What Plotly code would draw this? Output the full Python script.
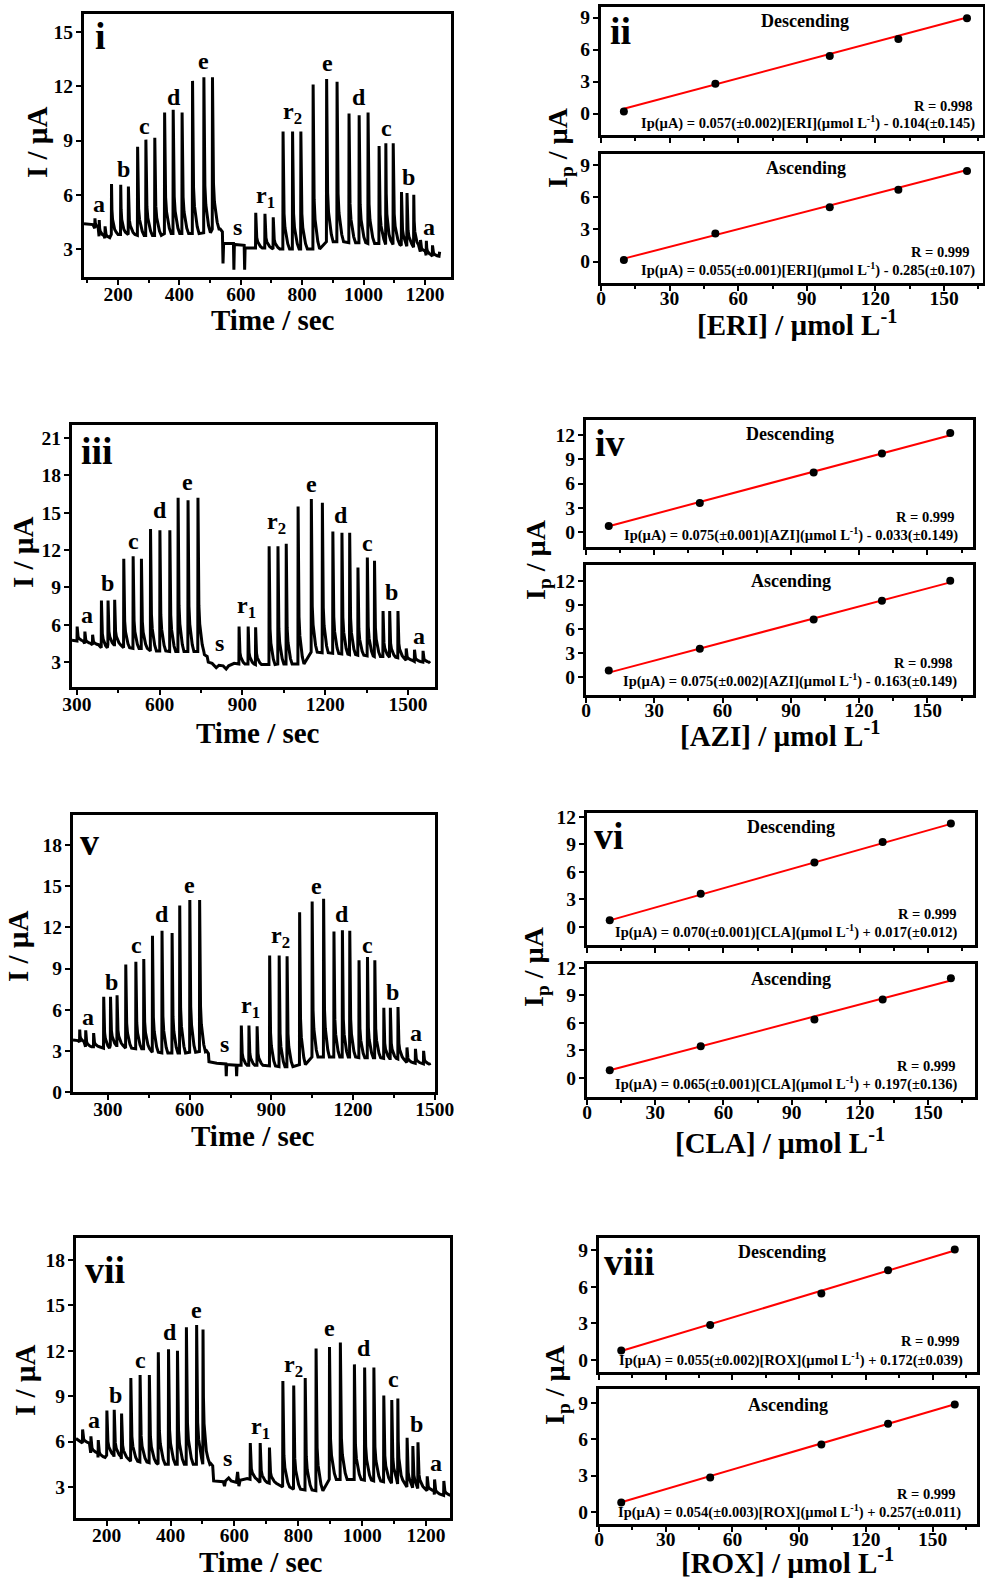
import plotly.graph_objects as go

W, H = 985, 1578
FONT = "Liberation Serif"

# ===================== DATA =====================
# ---- Panel i : ERI amperometric trace (time / s, current / uA) ----
ERI_spk_t = [124, 138, 157, 178, 208, 233, 263, 290, 319, 351, 379, 408, 442, 479, 507,
             648, 678, 705, 737, 768, 795, 835, 879, 913, 952, 985, 1014, 1050, 1072, 1096,
             1123, 1141, 1163, 1185, 1204, 1224]
ERI_spk_p = [4.7, 4.6, 4.25, 6.6, 6.55, 6.45, 8.65, 9.05, 9.15, 10.55, 10.7, 10.55, 12.3, 12.5, 12.5,
             5.0, 4.95, 4.75, 9.5, 9.5, 9.5, 12.1, 12.4, 12.25, 10.5, 10.4, 10.55, 8.7, 8.85, 8.85,
             6.15, 6.1, 6.0, 3.5, 3.45, 3.2]
ERI_spk_b = [4.15, 3.7, 3.6, 3.8, 3.8, 3.8, 3.75, 3.75, 3.75, 3.85, 3.85, 3.85, 3.85, 3.9, 4.1,
             3.05, 3.05, 3.0, 3.0, 3.0, 3.0, 3.0, 3.4, 3.4, 3.35, 3.35, 3.3, 3.3, 3.25, 3.25,
             3.2, 3.15, 3.1, 2.85, 2.65, 2.6]
ERI_base_t = [89, 118, 533, 540, 542, 544, 576, 577.5, 579, 611, 612.5, 614, 625, 642, 1248]
ERI_base_y = [4.4, 4.35, 4.1, 3.95, 2.2, 3.3, 3.3, 1.85, 3.25, 3.2, 1.85, 3.05, 3.05, 3.05, 2.85]
ERI_lbl = ["a", "b", "c", "d", "e", "s", "r<sub>1</sub>", "r<sub>2</sub>", "e", "d", "c", "b", "a"]
ERI_lbl_t = [137, 218, 285, 381, 477, 589, 680, 767, 884, 984, 1074, 1148, 1213]
ERI_lbl_y = [5.5, 7.4, 9.8, 11.4, 13.4, 4.2, 5.9, 10.5, 13.3, 11.4, 9.7, 7.0, 4.2]

# ---- Panel iii : AZI amperometric trace ----
AZI_spk_t = [300, 328, 356, 388, 412, 436, 469, 503, 533, 566, 600, 636, 666, 702, 738,
             887, 920, 947, 996, 1028, 1058, 1101, 1149, 1189, 1227, 1260, 1288, 1318, 1352, 1378,
             1409, 1433, 1463, 1493, 1523, 1554]
AZI_spk_p = [5.85, 5.45, 5.2, 7.95, 7.95, 8.0, 11.3, 11.5, 11.3, 13.7, 13.6, 13.6, 16.2, 16.0, 16.2,
             5.85, 5.85, 5.8, 12.3, 12.3, 12.5, 15.5, 16.1, 15.8, 13.5, 13.4, 13.4, 10.6, 11.4, 11.15,
             7.1, 7.1, 7.1, 4.1, 4.0, 3.9]
AZI_spk_b = [4.7, 4.5, 4.4, 4.15, 4.4, 4.4, 4.15, 4.1, 4.1, 3.9, 3.9, 3.85, 3.85, 3.85, 3.85,
             2.85, 2.85, 2.8, 2.8, 2.85, 2.85, 2.85, 3.8, 3.75, 3.7, 3.65, 3.6, 3.55, 3.5, 3.45,
             3.45, 3.4, 3.35, 3.15, 3.05, 3.0]
AZI_base_t = [282, 298, 762, 772, 776, 790, 805, 815, 830, 841, 850, 870, 880, 1580]
AZI_base_y = [4.75, 4.7, 3.6, 3.45, 3.0, 2.9, 2.55, 2.75, 2.7, 2.45, 2.7, 2.9, 2.85, 2.9]
AZI_lbl = ["a", "b", "c", "d", "e", "s", "r<sub>1</sub>", "r<sub>2</sub>", "e", "d", "c", "b", "a"]
AZI_lbl_t = [336, 412, 505, 602, 702, 817, 915, 1024, 1149, 1258, 1354, 1439, 1539]
AZI_lbl_y = [6.8, 9.35, 12.7, 15.25, 17.5, 4.5, 7.4, 14.2, 17.3, 14.85, 12.6, 8.6, 5.1]

# ---- Panel v : CLA amperometric trace ----
CLA_spk_t = [196, 218, 247, 284, 309, 333, 365, 402, 431, 463, 498, 535, 563, 600, 636,
             789, 817, 847, 893, 928, 957, 1003, 1049, 1091, 1129, 1160, 1187, 1221, 1252, 1279,
             1312, 1336, 1364, 1397, 1428, 1458]
CLA_spk_p = [4.55, 4.5, 4.3, 6.95, 6.95, 7.05, 9.3, 9.5, 9.7, 11.4, 11.75, 11.6, 13.6, 14.0, 14.0,
             4.85, 4.85, 4.8, 9.95, 9.95, 9.9, 13.1, 13.9, 14.1, 11.7, 11.8, 11.75, 9.6, 9.85, 9.6,
             6.15, 6.15, 6.2, 3.25, 3.15, 3.0]
CLA_spk_b = [3.65, 3.3, 3.3, 3.2, 3.4, 3.4, 3.2, 3.15, 3.15, 2.9, 2.85, 2.85, 2.85, 2.9, 2.95,
             1.95, 1.95, 1.95, 1.9, 1.85, 1.85, 2.0, 2.55, 2.55, 2.55, 2.55, 2.55, 2.5, 2.5, 2.5,
             2.45, 2.45, 2.4, 2.15, 2.1, 2.05]
CLA_base_t = [172, 190, 662, 669, 671, 700, 733, 734.5, 736, 771, 772.5, 774, 782, 1482]
CLA_base_y = [3.8, 3.75, 3.0, 2.8, 2.2, 2.1, 2.05, 1.15, 2.0, 1.95, 1.15, 1.95, 1.95, 1.95]
CLA_lbl = ["a", "b", "c", "d", "e", "s", "r<sub>1</sub>", "r<sub>2</sub>", "e", "d", "c", "b", "a"]
CLA_lbl_t = [227, 312, 404, 498, 600, 728, 822, 932, 1065, 1160, 1254, 1346, 1432]
CLA_lbl_y = [5.5, 8.0, 10.7, 13.0, 15.1, 3.5, 6.2, 11.3, 15.0, 13.0, 10.7, 7.3, 4.3]

# ---- Panel vii : ROX amperometric trace ----
ROX_spk_t = [124, 150, 173, 200, 223, 246, 275, 304, 333, 361, 393, 421, 449, 481, 501,
             649, 680, 709, 751, 785, 821, 855, 897, 931, 975, 1007, 1036, 1067, 1092, 1111,
             1140, 1158, 1174, 1203, 1226, 1255]
ROX_spk_p = [6.8, 6.35, 6.1, 8.05, 8.1, 7.85, 10.2, 10.4, 10.4, 11.9, 12.1, 12.0, 13.55, 13.7, 13.4,
             5.9, 5.9, 5.6, 10.0, 9.7, 10.2, 12.15, 12.25, 12.55, 11.1, 10.9, 10.9, 9.05, 8.75, 8.85,
             6.25, 5.7, 5.95, 3.7, 3.5, 3.4]
ROX_spk_b = [5.9, 5.25, 4.95, 5.1, 5.0, 4.85, 4.7, 4.65, 4.6, 4.5, 4.5, 4.5, 4.5, 4.5, 4.5,
             3.5, 3.3, 3.25, 3.0, 2.85, 2.8, 2.75, 3.5, 3.5, 3.5, 3.45, 3.4, 3.35, 3.25, 3.2,
             3.0, 2.95, 2.9, 2.75, 2.5, 2.45]
ROX_base_t = [104, 118, 526, 532, 535, 565, 569, 572, 582, 590, 606, 610, 614, 618, 640, 1280]
ROX_base_y = [6.2, 5.95, 4.55, 4.4, 3.4, 3.35, 3.05, 3.4, 3.6, 3.4, 3.3, 4.0, 3.05, 3.45, 3.55, 2.4]
ROX_lbl = ["a", "b", "c", "d", "e", "s", "r<sub>1</sub>", "r<sub>2</sub>", "e", "d", "c", "b", "a"]
ROX_lbl_t = [160, 228, 307, 397, 482, 578, 683, 784, 897, 1007, 1099, 1169, 1231]
ROX_lbl_y = [7.45, 9.1, 11.4, 13.24, 14.7, 4.9, 6.9, 11.0, 13.5, 12.2, 10.16, 7.16, 4.6]

# ---- Calibration panels (concentration / umol L-1, Ip / uA) ----
conc = [10, 50, 100, 130, 160]
ERI_desc = [0.2, 2.8, 5.4, 7.0, 8.95]
ERI_asc = [0.15, 2.6, 5.05, 6.67, 8.42]
AZI_desc = [0.75, 3.6, 7.35, 9.7, 12.25]
AZI_asc = [0.85, 3.55, 7.22, 9.54, 12.05]
CLA_desc = [0.73, 3.62, 7.02, 9.25, 11.27]
CLA_asc = [0.84, 3.45, 6.36, 8.55, 10.85]
ROX_desc = [0.76, 2.86, 5.45, 7.36, 9.05]
ROX_asc = [0.77, 2.84, 5.56, 7.29, 8.86]
# fit: slope, slope error, intercept, intercept error, R
ERI_fit_desc = [0.057, 0.002, -0.104, 0.145, 0.998]
ERI_fit_asc = [0.055, 0.001, -0.285, 0.107, 0.999]
AZI_fit_desc = [0.075, 0.001, -0.033, 0.149, 0.999]
AZI_fit_asc = [0.075, 0.002, -0.163, 0.149, 0.998]
CLA_fit_desc = [0.070, 0.001, 0.017, 0.012, 0.999]
CLA_fit_asc = [0.065, 0.001, 0.197, 0.136, 0.999]
ROX_fit_desc = [0.055, 0.002, 0.172, 0.039, 0.999]
ROX_fit_asc = [0.054, 0.003, 0.257, 0.011, 0.999]

# tick labels
TIME_TICKS_A = [200, 400, 600, 800, 1000, 1200]
TIME_MINOR_A = [100, 300, 500, 700, 900, 1100, 1300]
TIME_TICKS_B = [300, 600, 900, 1200, 1500]
TIME_MINOR_B = [150, 450, 750, 1050, 1350]
CONC_TICKS = [0, 30, 60, 90, 120, 150]
CONC_MINOR = [15, 45, 75, 105, 135, 165]

# ===================== RENDERING =====================
# pulse shape of one injection (relative time, fraction of peak height)
DECAY_DT = [0.7, 2.0, 4.0, 7.0, 11.0, 16.0, 22.0]
DECAY_FR = [1.0, 0.5, 0.3, 0.18, 0.1, 0.045, 0.0]


def build_trace(spk_t, spk_p, spk_b, base_t, base_y):
    pts, windows = [], []
    n = len(spk_t)
    for k in range(n):
        t, p, b = spk_t[k], spk_p[k], spk_b[k]
        t_next = spk_t[k + 1] if k + 1 < n else 1e9
        pts.append((t, b))
        last = t
        for dt, f in zip(DECAY_DT, DECAY_FR):
            if t + dt < t_next - 0.3:
                pts.append((t + dt, b + f * (p - b)))
                last = t + dt
        windows.append((t, last))
    for bt, by in zip(base_t, base_y):
        if not any(w0 <= bt <= w1 for w0, w1 in windows):
            pts.append((bt, by))
    pts.sort(key=lambda q: q[0])
    return [q[0] for q in pts], [q[1] for q in pts]


def fnt(size):
    return dict(family=FONT, size=size, color="black", weight="bold")


TICKFONT = fnt(19.5)


def make_axis(frame_px, rng, tickvals, minorvals, is_x, showlabels=True, standoff=None):
    l, r, t, b = frame_px
    dom = [l / W, r / W] if is_x else [1 - b / H, 1 - t / H]
    if standoff is None:
        standoff = -7 if is_x else -1
    ax = dict(domain=dom, range=rng, tickmode="array", tickvals=tickvals,
              ticktext=[str(v) for v in tickvals], showticklabels=showlabels,
              ticks="outside", ticklen=5, tickwidth=2, tickcolor="black",
              showline=True, linewidth=3, linecolor="black", mirror=True,
              showgrid=False, zeroline=False, tickfont=TICKFONT, fixedrange=True,
              automargin=False, ticklabelstandoff=standoff)
    if minorvals:
        ax["minor"] = dict(tickmode="array", tickvals=minorvals, ticks="outside",
                           ticklen=3, tickwidth=2, tickcolor="black", showgrid=False)
    return ax


fig = go.Figure()
layout = {}
ann = []


def add_text(x, y, text, size, xref="paper", yref="paper", xanchor="center",
             yanchor="middle", angle=0):
    ann.append(dict(x=x, y=y, xref=xref, yref=yref, text=text, showarrow=False,
                    font=fnt(size), xanchor=xanchor, yanchor=yanchor, textangle=angle))


def ax_names(n):
    return ("x" if n == 1 else f"x{n}"), ("y" if n == 1 else f"y{n}")


# ---- amperometric panels ----
amp_panels = [
    (1, (84, 451, 14, 277), [89, 1285], [1.45, 16.0], TIME_TICKS_A, TIME_MINOR_A, [3, 6, 9, 12, 15],
     (ERI_spk_t, ERI_spk_p, ERI_spk_b, ERI_base_t, ERI_base_y), (ERI_lbl, ERI_lbl_t, ERI_lbl_y),
     "i", (100, 36), (37, 142), (273, 320)),
    (4, (72, 435, 425, 687), [282, 1598], [1.0, 22.05], TIME_TICKS_B, TIME_MINOR_B, [3, 6, 9, 12, 15, 18, 21],
     (AZI_spk_t, AZI_spk_p, AZI_spk_b, AZI_base_t, AZI_base_y), (AZI_lbl, AZI_lbl_t, AZI_lbl_y),
     "iii", (97, 451), (23, 552), (258, 733)),
    (7, (73, 435, 815, 1092), [172, 1500.5], [0, 20.2], TIME_TICKS_B, TIME_MINOR_B, [0, 3, 6, 9, 12, 15, 18],
     (CLA_spk_t, CLA_spk_p, CLA_spk_b, CLA_base_t, CLA_base_y), (CLA_lbl, CLA_lbl_t, CLA_lbl_y),
     "v", (89, 842), (18, 946), (253, 1136)),
    (10, (76, 450, 1238, 1518), [104, 1275], [0.95, 19.45], TIME_TICKS_A, TIME_MINOR_A, [3, 6, 9, 12, 15, 18],
     (ROX_spk_t, ROX_spk_p, ROX_spk_b, ROX_base_t, ROX_base_y), (ROX_lbl, ROX_lbl_t, ROX_lbl_y),
     "vii", (105, 1270), (25, 1380), (261, 1562)),
]

for (n, frame, xr, yr, xt, xm, yt, data, lbls, plabel, ppos, ylpos, xlpos) in amp_panels:
    xn, yn = ax_names(n)
    xa = make_axis(frame, xr, xt, xm, True)
    ya = make_axis(frame, yr, yt, None, False)
    xa["anchor"] = yn
    ya["anchor"] = xn
    layout["xaxis" if n == 1 else f"xaxis{n}"] = xa
    layout["yaxis" if n == 1 else f"yaxis{n}"] = ya
    tx, ty = build_trace(*data)
    fig.add_trace(go.Scatter(x=tx, y=ty, mode="lines", line=dict(color="black", width=3),
                             xaxis=xn, yaxis=yn, hoverinfo="skip"))
    for txt, lt, ly in zip(*lbls):
        add_text(lt, ly, txt, 24, xref=xn, yref=yn)
    add_text(ppos[0] / W, 1 - ppos[1] / H, plabel, 38)
    add_text(ylpos[0] / W, 1 - ylpos[1] / H, "I / µA", 29, angle=-90)
    add_text(xlpos[0] / W, 1 - xlpos[1] / H, "Time / sec", 29)

# ---- calibration panels ----
cal_panels = [
    (2, ((601, 983, 7, 135), (601, 983, 154, 283)), [0, 167], ([-2, 10], [-2, 10]), [0, 3, 6, 9],
     "ERI", ERI_desc, ERI_asc, ERI_fit_desc, ERI_fit_asc, "ii", (620, 31), (560, 148), (797, 323),
     ((0.534, 0.89, 0.979, 0.227, 0.984, 0.094), (0.537, 0.89, 0.971, 0.24, 0.984, 0.108))),
    (5, ((586, 973, 420, 547), (586, 973, 565, 695)), [0, 170], ([-1.86, 13.86], [-2.2, 14.0]), [0, 3, 6, 9, 12],
     "AZI", AZI_desc, AZI_asc, AZI_fit_desc, AZI_fit_asc, "iv", (610, 443), (537, 560), (780, 734),
     ((0.527, 0.89, 0.959, 0.236, 0.966, 0.10), (0.53, 0.877, 0.954, 0.246, 0.964, 0.115))),
    (8, ((587, 975, 813, 945), (587, 975, 964, 1097)), [0, 170.6], ([-1.96, 12.4], [-2.07, 12.4]), [0, 3, 6, 9, 12],
     "CLA", CLA_desc, CLA_asc, CLA_fit_desc, CLA_fit_asc, "vi", (609, 836), (535, 967), (780, 1141),
     ((0.526, 0.894, 0.959, 0.235, 0.961, 0.10), (0.526, 0.887, 0.956, 0.233, 0.961, 0.105))),
    (11, ((599, 977, 1238, 1372), (599, 977, 1389, 1524)), [0, 170], ([-1.0, 10.0], [-1.0, 10.15]), [0, 3, 6, 9],
     "ROX", ROX_desc, ROX_asc, ROX_fit_desc, ROX_fit_asc, "viii", (629, 1262), (556, 1385), (787, 1561),
     ((0.484, 0.895, 0.96, 0.23, 0.968, 0.097), (0.5, 0.88, 0.95, 0.222, 0.963, 0.096))),
]


def sgn(v):
    return "+" if v >= 0 else "-"


for (n0, frames, xr, yrs, yt, drug, desc, asc, fd, fa, plabel, ppos, ylpos, xlpos, tpos) in cal_panels:
    for k, (frame, yr, vals, fit, title, tp) in enumerate(
            zip(frames, yrs, (desc, asc), (fd, fa), ("Descending", "Ascending"), tpos)):
        n = n0 + k
        xn, yn = ax_names(n)
        xa = make_axis(frame, xr, CONC_TICKS, CONC_MINOR, True, showlabels=(k == 1), standoff=-9)
        ya = make_axis(frame, yr, yt, None, False)
        xa["anchor"] = yn
        ya["anchor"] = xn
        layout[f"xaxis{n}"] = xa
        layout[f"yaxis{n}"] = ya
        slope, serr, icpt, ierr, R = fit
        xl = [conc[0], conc[-1]]
        yl = [slope * conc[0] + icpt, slope * conc[-1] + icpt]
        fig.add_trace(go.Scatter(x=xl, y=yl, mode="lines", line=dict(color="#ff0000", width=2),
                                 xaxis=xn, yaxis=yn, hoverinfo="skip"))
        fig.add_trace(go.Scatter(x=conc, y=vals, mode="markers",
                                 marker=dict(color="black", size=8),
                                 xaxis=xn, yaxis=yn, hoverinfo="skip"))
        xd, yd = f"{xn} domain", f"{yn} domain"
        add_text(tp[0], tp[1], title, 18, xref=xd, yref=yd)
        add_text(tp[2], tp[3], f"R = {R:.3f}", 14.5, xref=xd, yref=yd, xanchor="right")
        eq = (f"Ip(µA) = {slope:.3f}(±{serr:.3f})[{drug}](µmol L<sup>-1</sup>) "
              f"{sgn(icpt)} {abs(icpt):.3f}(±{ierr:.3f})")
        add_text(tp[4], tp[5], eq, 14.5, xref=xd, yref=yd, xanchor="right")
    add_text(ppos[0] / W, 1 - ppos[1] / H, plabel, 38)
    add_text(ylpos[0] / W, 1 - ylpos[1] / H, "I<sub>p</sub> / µA", 28, angle=-90)
    add_text(xlpos[0] / W, 1 - xlpos[1] / H, f"[{drug}] / µmol L<sup>-1</sup>", 29)

fig.update_layout(**layout)
fig.update_layout(template="none", width=W, height=H, autosize=False,
                  margin=dict(l=0, r=0, t=0, b=0, pad=0),
                  paper_bgcolor="white", plot_bgcolor="white",
                  showlegend=False, annotations=ann,
                  font=dict(family=FONT, color="black", weight="bold"))

fig.write_html("out.html", config={"displayModeBar": False},
               post_script="document.body.style.margin='0';document.body.style.overflow='hidden';")
